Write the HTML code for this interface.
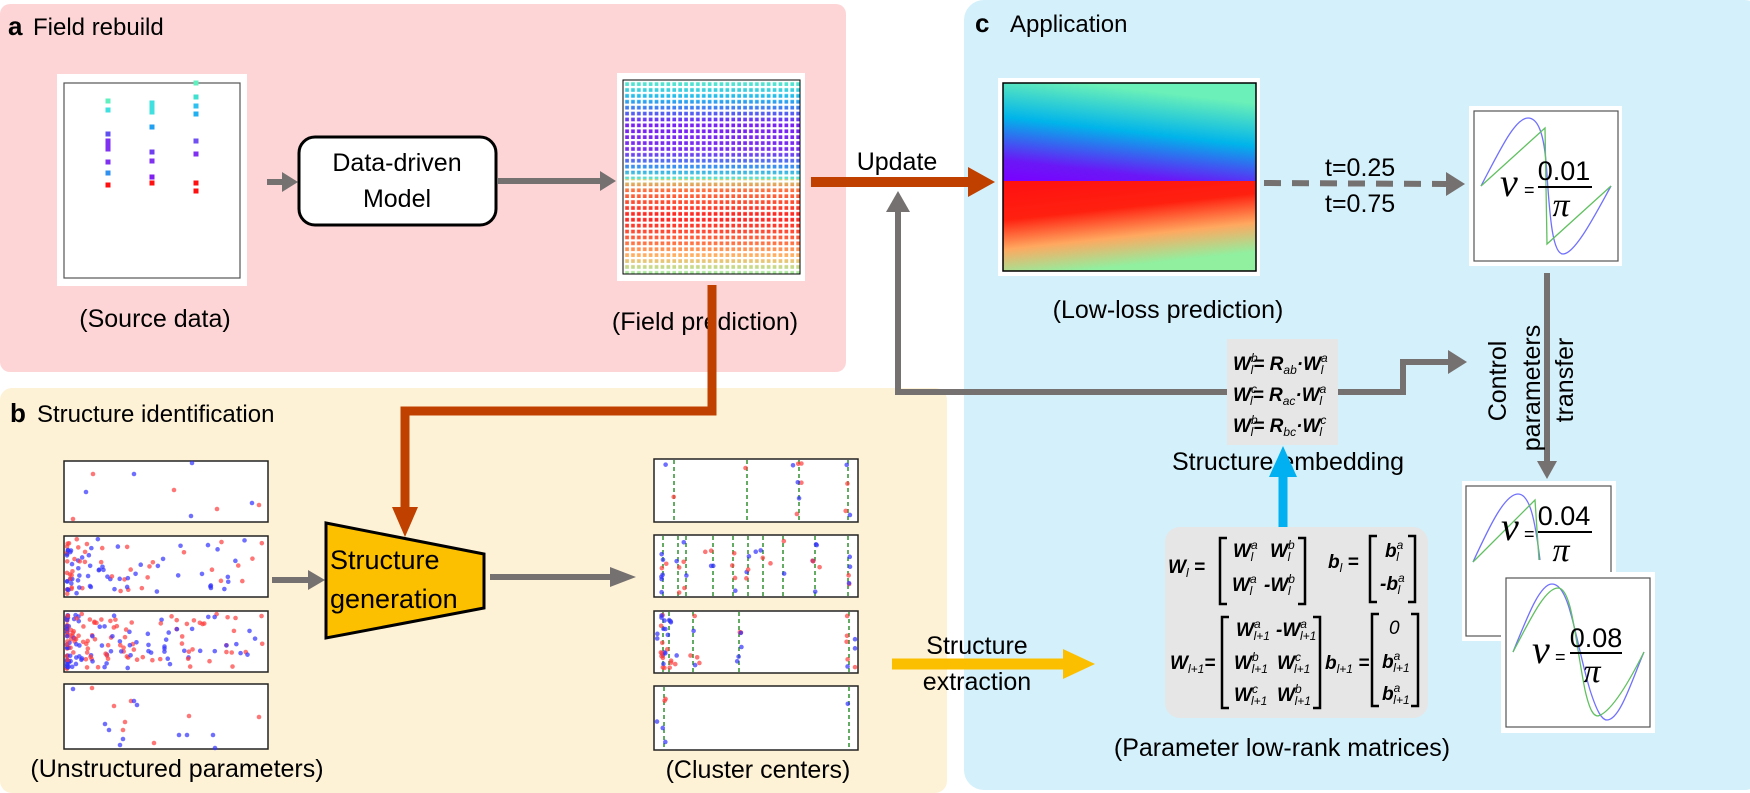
<!DOCTYPE html>
<html><head><meta charset="utf-8">
<style>
html,body{margin:0;padding:0;background:#fff;}
svg{display:block;}
.t{font-family:"Liberation Sans",Arial,sans-serif;font-size:25px;fill:#000;}
.h{font-family:"Liberation Sans",Arial,sans-serif;font-size:24px;fill:#000;}
.b{font-family:"Liberation Sans",Arial,sans-serif;font-size:26px;font-weight:bold;fill:#000;}
.m{font-family:"Liberation Sans",Arial,sans-serif;font-size:19px;font-weight:bold;font-style:italic;fill:#000;}
.s{font-size:12px;font-weight:normal;}
.nu{font-family:"Liberation Serif",serif;font-style:italic;font-size:40px;}
.fr{font-family:"Liberation Sans",Arial,sans-serif;font-size:27px;}
.pi{font-family:"Liberation Serif",serif;font-style:italic;font-size:34px;}
.eq{font-family:"Liberation Sans",Arial,sans-serif;font-size:18px;}
</style></head>
<body>
<svg id="s" width="1750" height="793" viewBox="0 0 1750 793" xmlns="http://www.w3.org/2000/svg">
<defs>
<linearGradient id="fpTop" x1="0" y1="0" x2="0" y2="1">
<stop offset="0" stop-color="#60f0c8"/><stop offset="0.18" stop-color="#20b8f0"/><stop offset="0.45" stop-color="#7a20f4"/><stop offset="0.72" stop-color="#7a30f0"/><stop offset="0.9" stop-color="#30a0f0"/><stop offset="1" stop-color="#60e8c8"/></linearGradient>
<linearGradient id="fpBot" x1="0" y1="0" x2="0" y2="1">
<stop offset="0" stop-color="#c8d878"/><stop offset="0.12" stop-color="#ff7040"/><stop offset="0.4" stop-color="#ff2020"/><stop offset="0.65" stop-color="#ff6840"/><stop offset="0.82" stop-color="#ffb868"/><stop offset="1" stop-color="#a0f0a0"/></linearGradient>
<linearGradient id="llTop" x1="0.3" y1="0" x2="0" y2="1">
<stop offset="0" stop-color="#6af0b8"/><stop offset="0.4" stop-color="#00b4ea"/><stop offset="0.8" stop-color="#6a18f6"/><stop offset="1" stop-color="#7a00ff"/></linearGradient>
<linearGradient id="llBot" x1="0" y1="0" x2="0.3" y2="1">
<stop offset="0" stop-color="#ff1010"/><stop offset="0.4" stop-color="#ff2010"/><stop offset="0.7" stop-color="#ffa860"/><stop offset="1" stop-color="#90f0a0"/></linearGradient>
<pattern id="grid" width="5.9" height="5.9" patternUnits="userSpaceOnUse" x="623" y="80">
<path d="M0,0 H5.9 M0,0 V5.9" stroke="#fff" stroke-width="4.4" fill="none"/></pattern>
</defs>

<rect x="0" y="4" width="846" height="368" rx="10" fill="#fed5d6"/>
<rect x="0" y="388" width="947" height="405" rx="12" fill="#fef2d6"/>
<rect x="964" y="0" width="800" height="790" rx="20" fill="#d4f0fa"/>

<text x="8" y="35" class="b">a</text><text x="33" y="35" class="h">Field rebuild</text>
<text x="10" y="422" class="b">b</text><text x="37" y="422" class="h">Structure identification</text>
<text x="975" y="32" class="b">c</text><text x="1010" y="32" class="h">Application</text>

<rect x="57" y="74" width="190" height="212" fill="#fff"/>
<rect x="64" y="83" width="176" height="195" fill="#fff" stroke="#555" stroke-width="1.2"/>
<g id="src"></g>
<text x="155" y="327" class="t" text-anchor="middle">(Source data)</text>

<line x1="267" y1="182" x2="284" y2="182" stroke="#767171" stroke-width="6"/>
<polygon points="282,172 298,182 282,192" fill="#767171"/>
<rect x="299" y="137" width="197" height="88" rx="16" fill="#fff" stroke="#000" stroke-width="3"/>
<text x="397" y="171" class="t" text-anchor="middle">Data-driven</text>
<text x="397" y="207" class="t" text-anchor="middle">Model</text>
<line x1="497" y1="181" x2="604" y2="181" stroke="#767171" stroke-width="6"/>
<polygon points="600,171 616,181 600,191" fill="#767171"/>

<rect x="617" y="73" width="188" height="208" fill="#fff"/>
<rect x="623" y="80" width="177" height="99" fill="url(#fpTop)"/>
<rect x="623" y="179" width="177" height="95" fill="url(#fpBot)"/>
<rect x="623" y="80" width="177" height="194" fill="url(#grid)"/>
<rect x="623" y="80" width="177" height="194" fill="none" stroke="#000" stroke-width="1"/>
<text x="705" y="330" class="t" text-anchor="middle">(Field prediction)</text>

<path d="M712,285 V411 H405 V510" fill="none" stroke="#c04000" stroke-width="9"/>
<polygon points="392,507 418,507 405,537" fill="#c04000"/>

<line x1="811" y1="182" x2="970" y2="182" stroke="#c04000" stroke-width="10"/>
<polygon points="968,167 995,182 968,197" fill="#c04000"/>
<text x="897" y="170" class="t" text-anchor="middle">Update</text>

<path d="M1227,392 H898 V208" fill="none" stroke="#767171" stroke-width="6"/>
<polygon points="886,212 898,191 910,212" fill="#767171"/>

<rect x="998" y="78" width="262" height="198" fill="#fff"/>
<rect x="1003" y="83" width="253" height="98" fill="url(#llTop)"/>
<rect x="1003" y="181" width="253" height="90" fill="url(#llBot)"/>
<rect x="1003" y="83" width="253" height="188" fill="none" stroke="#000" stroke-width="1.5"/>
<text x="1168" y="318" class="t" text-anchor="middle">(Low-loss prediction)</text>

<line x1="1264" y1="183" x2="1446" y2="184" stroke="#767171" stroke-width="6" stroke-dasharray="17,11"/>
<polygon points="1446,172 1465,184 1446,196" fill="#767171"/>
<text x="1325" y="176" class="t">t=0.25</text>
<text x="1325" y="212" class="t">t=0.75</text>

<rect x="1469" y="106" width="153" height="160" fill="#fff"/>
<rect x="1474" y="111" width="144" height="150" fill="#fff" stroke="#555" stroke-width="1.2"/>
<path d="M1481,186 C1500,150 1515,118 1528,118 C1540,118 1545,140 1547,175 C1550,220 1553,254 1563,254 C1575,254 1595,215 1611,186" fill="none" stroke="#7070ff" stroke-width="1.3"/>
<path d="M1481,186 L1545,128 L1547,244 L1611,186" fill="none" stroke="#60c060" stroke-width="1.3"/>
<text x="1500" y="196" class="nu">ν</text><text x="1524" y="196" class="eq">=</text>
<line x1="1538" y1="187" x2="1592" y2="187" stroke="#000" stroke-width="2"/>
<text x="1564" y="180" class="fr" text-anchor="middle">0.01</text>
<text x="1561" y="216" class="pi" text-anchor="middle">π</text>

<line x1="1547" y1="273" x2="1547" y2="463" stroke="#767171" stroke-width="6"/>
<polygon points="1537,461 1557,461 1547,479" fill="#767171"/>
<text transform="translate(1506,381) rotate(-90)" class="t" text-anchor="middle">Control</text>
<text transform="translate(1540,388) rotate(-90)" class="t" text-anchor="middle">parameters</text>
<text transform="translate(1573,380) rotate(-90)" class="t" text-anchor="middle">transfer</text>

<path d="M1338,392 H1403 V362 H1450" fill="none" stroke="#767171" stroke-width="6"/>
<polygon points="1448,350 1467,362 1448,374" fill="#767171"/>
<rect x="1227" y="339" width="111" height="106" fill="#e6e6e6"/>
<text x="1233" y="370" class="m">W<tspan class="s" dy="-8">b</tspan><tspan class="s" dx="-7" dy="12">l</tspan><tspan dy="-4">= R</tspan><tspan class="s" dy="4">ab</tspan><tspan dy="-4">·W</tspan><tspan class="s" dy="-8">a</tspan><tspan class="s" dx="-7" dy="12">l</tspan></text>
<text x="1233" y="401" class="m">W<tspan class="s" dy="-8">c</tspan><tspan class="s" dx="-7" dy="12">l</tspan><tspan dy="-4">= R</tspan><tspan class="s" dy="4">ac</tspan><tspan dy="-4">·W</tspan><tspan class="s" dy="-8">a</tspan><tspan class="s" dx="-7" dy="12">l</tspan></text>
<text x="1233" y="432" class="m">W<tspan class="s" dy="-8">b</tspan><tspan class="s" dx="-7" dy="12">l</tspan><tspan dy="-4">= R</tspan><tspan class="s" dy="4">bc</tspan><tspan dy="-4">·W</tspan><tspan class="s" dy="-8">c</tspan><tspan class="s" dx="-7" dy="12">l</tspan></text>
<text x="1288" y="470" class="t" text-anchor="middle">Structure embedding</text>
<line x1="1283" y1="528" x2="1283" y2="474" stroke="#00b0f0" stroke-width="9"/>
<polygon points="1269,477 1297,477 1283,446" fill="#00b0f0"/>

<rect x="1165" y="527" width="263" height="191" rx="15" fill="#e6e6e6"/>
<text x="1168" y="573" class="m">W<tspan class="s" dy="4">l</tspan><tspan dy="-4">  =</tspan></text>
<path d="M1227,538 h-7 v66 h7 M1298,538 h7 v66 h-7" fill="none" stroke="#000" stroke-width="2.5"/>
<text x="1233" y="557" class="m">W<tspan class="s" dy="-8">a</tspan><tspan class="s" dx="-7" dy="12">l</tspan></text>
<text x="1270" y="557" class="m">W<tspan class="s" dy="-8">b</tspan><tspan class="s" dx="-7" dy="12">l</tspan></text>
<text x="1232" y="591" class="m">W<tspan class="s" dy="-8">a</tspan><tspan class="s" dx="-7" dy="12">l</tspan></text>
<text x="1264" y="591" class="m">-W<tspan class="s" dy="-8">b</tspan><tspan class="s" dx="-7" dy="12">l</tspan></text>
<text x="1328" y="568" class="m">b<tspan class="s" dy="4">l</tspan><tspan dy="-4"> =</tspan></text>
<path d="M1377,536 h-7 v66 h7 M1408,536 h7 v66 h-7" fill="none" stroke="#000" stroke-width="2.5"/>
<text x="1385" y="557" class="m">b<tspan class="s" dy="-8">a</tspan><tspan class="s" dx="-7" dy="12">l</tspan></text>
<text x="1380" y="590" class="m">-b<tspan class="s" dy="-8">a</tspan><tspan class="s" dx="-7" dy="12">l</tspan></text>
<text x="1170" y="669" class="m">W<tspan class="s" dy="4">l+1</tspan><tspan dy="-4">=</tspan></text>
<path d="M1229,617 h-7 v91 h7 M1313,617 h7 v91 h-7" fill="none" stroke="#000" stroke-width="2.5"/>
<text x="1236" y="636" class="m">W<tspan class="s" dy="-8">a</tspan><tspan class="s" dx="-7" dy="12">l+1</tspan></text>
<text x="1276" y="636" class="m">-W<tspan class="s" dy="-8">a</tspan><tspan class="s" dx="-7" dy="12">l+1</tspan></text>
<text x="1234" y="669" class="m">W<tspan class="s" dy="-8">b</tspan><tspan class="s" dx="-7" dy="12">l+1</tspan></text>
<text x="1277" y="669" class="m">W<tspan class="s" dy="-8">c</tspan><tspan class="s" dx="-7" dy="12">l+1</tspan></text>
<text x="1234" y="701" class="m">W<tspan class="s" dy="-8">c</tspan><tspan class="s" dx="-7" dy="12">l+1</tspan></text>
<text x="1277" y="701" class="m">W<tspan class="s" dy="-8">b</tspan><tspan class="s" dx="-7" dy="12">l+1</tspan></text>
<text x="1325" y="669" class="m">b<tspan class="s" dy="4">l+1</tspan><tspan dy="-4"> =</tspan></text>
<path d="M1379,614 h-7 v92 h7 M1411,614 h7 v92 h-7" fill="none" stroke="#000" stroke-width="2.5"/>
<text x="1389" y="634" class="m" style="font-weight:normal">0</text>
<text x="1382" y="668" class="m">b<tspan class="s" dy="-8">a</tspan><tspan class="s" dx="-7" dy="12">l+1</tspan></text>
<text x="1382" y="700" class="m">b<tspan class="s" dy="-8">a</tspan><tspan class="s" dx="-7" dy="12">l+1</tspan></text>
<text x="1282" y="756" class="t" text-anchor="middle">(Parameter low-rank matrices)</text>

<rect x="1462" y="481" width="154" height="160" fill="#fff"/>
<rect x="1466" y="486" width="145" height="150" fill="#fff" stroke="#555" stroke-width="1.2"/>
<path d="M1473,562 C1490,525 1505,494 1518,494 C1530,494 1535,520 1540,560" fill="none" stroke="#7070ff" stroke-width="1.3"/>
<path d="M1473,562 L1535,500 L1539,560" fill="none" stroke="#60c060" stroke-width="1.3"/>
<text x="1501" y="540" class="nu">ν</text><text x="1524" y="540" class="eq">=</text>
<line x1="1538" y1="532" x2="1592" y2="532" stroke="#000" stroke-width="2"/>
<text x="1564" y="525" class="fr" text-anchor="middle">0.04</text>
<text x="1561" y="561" class="pi" text-anchor="middle">π</text>

<rect x="1501" y="572" width="154" height="161" fill="#fff"/>
<rect x="1506" y="578" width="144" height="149" fill="#fff" stroke="#555" stroke-width="1.2"/>
<path d="M1513,652 C1528,615 1540,584 1552,584 C1570,584 1575,640 1590,690 C1597,712 1602,720 1607,720 C1620,720 1632,680 1644,652" fill="none" stroke="#7070ff" stroke-width="1.3"/>
<path d="M1513,652 C1530,620 1545,588 1558,588 C1572,588 1575,640 1585,690 C1590,712 1594,716 1598,716 C1612,712 1630,680 1644,652" fill="none" stroke="#60c060" stroke-width="1.3"/>
<text x="1532" y="663" class="nu">ν</text><text x="1555" y="663" class="eq">=</text>
<line x1="1570" y1="653" x2="1622" y2="653" stroke="#000" stroke-width="2"/>
<text x="1596" y="647" class="fr" text-anchor="middle">0.08</text>
<text x="1592" y="682" class="pi" text-anchor="middle">π</text>

<g id="ub"></g>
<g id="cb"></g>
<text x="177" y="777" class="t" text-anchor="middle">(Unstructured parameters)</text>
<text x="758" y="778" class="t" text-anchor="middle">(Cluster centers)</text>
<line x1="272" y1="580" x2="311" y2="580" stroke="#767171" stroke-width="6"/>
<polygon points="308,570 325,580 308,590" fill="#767171"/>
<polygon points="326,523 484,554 484,608 326,638" fill="#fdc000" stroke="#000" stroke-width="3"/>
<text x="330" y="569" class="t" style="font-size:27px">Structure</text>
<text x="330" y="608" class="t" style="font-size:27px">generation</text>
<line x1="490" y1="577" x2="615" y2="577" stroke="#767171" stroke-width="6"/>
<polygon points="610,567 636,577 610,587" fill="#767171"/>
<line x1="892" y1="664" x2="1066" y2="664" stroke="#fbbf00" stroke-width="11"/>
<polygon points="1063,649 1095,664 1063,679" fill="#fbbf00"/>
<text x="977" y="654" class="t" text-anchor="middle">Structure</text>
<text x="977" y="690" class="t" text-anchor="middle">extraction</text>
</svg>
<script>
(function(){
var NS="http://www.w3.org/2000/svg";
function el(p,n,a){var e=document.createElementNS(NS,n);for(var k in a)e.setAttribute(k,a[k]);p.appendChild(e);return e;}
var seed=7;function r(){seed=(seed*16807)%2147483647;return (seed-1)/2147483646;}
var src=document.getElementById('src');
var sq=[[108,101,'#60f0c0'],[108,110,'#40e0e0'],[108,134,'#6050f0'],[108,141,'#8030f0'],[108,145,'#8030f0'],[108,149,'#8030f0'],[108,162,'#8030f0'],[108,173,'#3090f0'],[108,185,'#ff1010'],
[152,103,'#40e0e0'],[152,108,'#40e0e0'],[152,112,'#40e0e0'],[152,127,'#20a0f0'],[152,152,'#7040f0'],[152,161,'#8030f0'],[152,177,'#8020f0'],[152,183,'#ff1010'],
[196,83,'#60f0c0'],[196,97,'#40e0d0'],[196,106,'#30c0f0'],[196,114,'#20b0f0'],[196,141,'#7050f0'],[196,154,'#8030f0'],[196,183,'#ff1010'],[196,191,'#ff1010']];
sq.forEach(function(s){el(src,'rect',{x:s[0]-2.5,y:s[1]-2.5,width:5,height:5,fill:s[2]});});
var R='rgba(255,60,60,0.7)',B='rgba(50,50,255,0.7)';
var ub=document.getElementById('ub');
var boxes=[[461,522],[536,597],[611,672],[684,749]];
boxes.forEach(function(b){el(ub,'rect',{x:64,y:b[0],width:204,height:b[1]-b[0],fill:'#fff',stroke:'#222','stroke-width':1.5});});
function dot(g,x,y,c){el(g,'circle',{cx:x,cy:y,r:2.3,fill:c});}
[[93,474,R],[134,474,B],[192,463,B],[86,492,B],[174,490,R],[217,509,R],[252,503,B],[259,505,R],[191,516,B],[73,519,R]].forEach(function(d){dot(ub,d[0],d[1],d[2]);});
[[73,689,B],[92,688,R],[114,706,R],[131,701,R],[134,701,B],[137,705,B],[125,722,R],[105,724,B],[109,730,B],[123,730,R],[123,739,B],[120,745,B],[154,743,R],[189,716,R],[179,735,B],[187,735,B],[213,735,B],[215,748,B],[259,717,R]].forEach(function(d){dot(ub,d[0],d[1],d[2]);});
function spread(y0,y1,n,k){for(var i=0;i<n;i++){var x=67+Math.pow(r(),k)*198;var y=y0+3+r()*(y1-y0-6);dot(ub,x,y,r()<0.5?R:B);}}
spread(536,597,100,2.6);spread(611,672,190,3.4);
var cb=document.getElementById('cb');
var cboxes=[[459,522,[674,747,799,848]],[535,597,[663,678,686,713,733,748,763,783,815,848]],[611,673,[663,669,693,739,849]],[686,750,[664,849]]];
cboxes.forEach(function(b,bi){el(cb,'rect',{x:654,y:b[0],width:204,height:b[1]-b[0],fill:'#fff',stroke:'#222','stroke-width':1.5});
b[2].forEach(function(x){el(cb,'line',{x1:x,y1:b[0]+1,x2:x,y2:b[1]-1,stroke:'#108010','stroke-width':1.3,'stroke-dasharray':'4,3'});});
var n=[14,45,50,6][bi];for(var i=0;i<n;i++){var lx=b[2][Math.floor(Math.pow(r(),bi==2?2:1)*b[2].length)];var x=lx+(r()-0.5)*(r()<0.2?20:5);x=Math.max(657,Math.min(855,x));dot(cb,x,b[0]+4+r()*(b[1]-b[0]-8),r()<0.5?R:B);}
});
})();
</script>
</body></html>
